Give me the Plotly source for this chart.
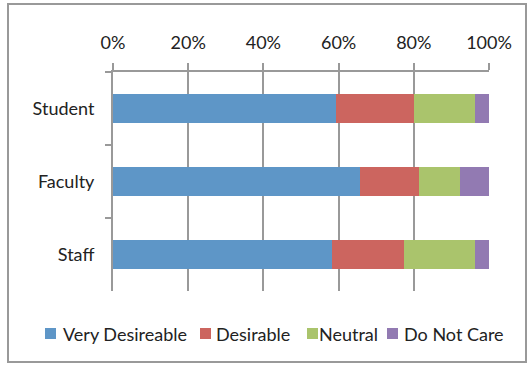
import plotly.graph_objects as go

# Survey responses by group (share of respondents)
groups = ["Student", "Faculty", "Staff"]
very_desireable = [0.593, 0.657, 0.583]
desirable = [0.207, 0.157, 0.191]
neutral = [0.163, 0.108, 0.189]
do_not_care = [0.037, 0.078, 0.037]

series_names = ["Very Desireable", "Desirable", "Neutral", "Do Not Care"]
series_colors = ["#5E96C7", "#CC655F", "#AAC46C", "#927AB2"]
series_values = [very_desireable, desirable, neutral, do_not_care]

W, H = 528, 366
L, R, T, B = 113, 39, 72, 75
PW, PH = W - L - R, H - T - B


def px_x(px):
    return (px - L) / PW


def px_y(py):
    return (H - B - py) / PH


fig = go.Figure()
for name, vals, color in zip(series_names, series_values, series_colors):
    fig.add_trace(go.Bar(
        y=groups, x=vals, name=name, orientation="h",
        marker=dict(color=color, line=dict(width=0)),
    ))

font_family = "Lato, 'Open Sans', sans-serif"
text_size = 18
fig.update_layout(
    barmode="stack",
    bargap=0.6,
    width=W, height=H,
    margin=dict(l=L, r=R, t=T, b=B, autoexpand=False),
    paper_bgcolor="white",
    plot_bgcolor="white",
    font=dict(family=font_family, size=text_size, color="#222222"),
    showlegend=False,
    xaxis=dict(
        side="top", range=[0, 1], tickformat=".0%", dtick=0.2,
        showgrid=True, gridcolor="#999999", gridwidth=2,
        showline=True, linecolor="#999999", linewidth=2,
        ticks="outside", ticklen=7, tickcolor="#999999", tickwidth=2,
        zeroline=False, ticklabelstandoff=7, automargin=False,
    ),
    yaxis=dict(
        categoryorder="array", categoryarray=groups, autorange="reversed",
        showline=True, linecolor="#999999", linewidth=2,
        ticks="outside", ticklen=6, tickcolor="#999999", tickwidth=2,
        tickson="boundaries", showgrid=False, ticklabelstandoff=13,
        automargin=False,
    ),
)

# Legend row drawn below the plot: colour square + label for each series
legend_square_x = [45, 200, 307, 387]
legend_text_x = [62, 215, 318, 403]
legend_cy = 333.5
for name, color, sx, tx in zip(series_names, series_colors, legend_square_x, legend_text_x):
    fig.add_shape(
        type="rect", xref="paper", yref="paper",
        x0=px_x(sx), x1=px_x(sx + 11),
        y0=px_y(legend_cy + 5.5), y1=px_y(legend_cy - 5.5),
        line=dict(width=0), fillcolor=color,
    )
    fig.add_annotation(
        text=name, xref="paper", yref="paper",
        x=px_x(tx), y=px_y(legend_cy), xanchor="left", yanchor="middle",
        showarrow=False, font=dict(size=text_size), xshift=-1,
    )

# Outer frame around the whole chart
fig.add_shape(
    type="rect", xref="paper", yref="paper",
    x0=px_x(8), x1=px_x(526), y0=px_y(362), y1=px_y(4),
    line=dict(color="#999999", width=2), fillcolor="rgba(0,0,0,0)",
    layer="below",
)

fig.write_html("out.html")
